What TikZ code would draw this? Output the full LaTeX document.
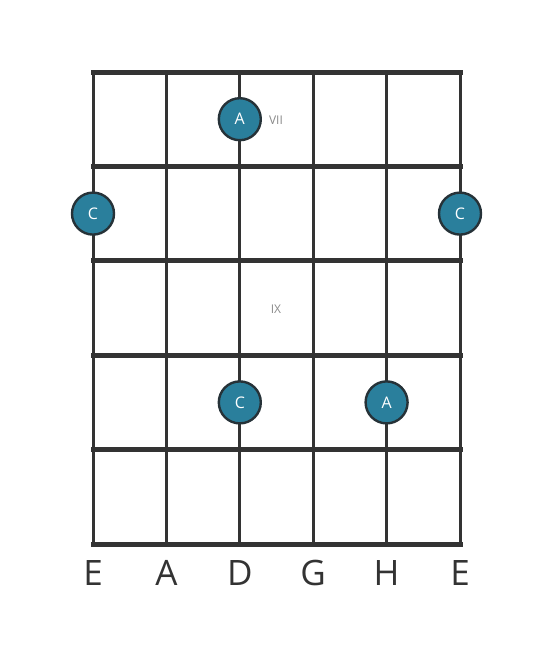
\documentclass[tikz,border=0pt]{standalone}
\usepackage{fontspec}
\setmainfont{Open Sans}
\usepackage{tikz}
\definecolor{gridgray}{HTML}{333333}
\definecolor{notefill}{HTML}{2A7F9C}
\definecolor{noteedge}{HTML}{263238}
\definecolor{fretlabel}{HTML}{8A8A8A}
\begin{document}
\begin{tikzpicture}[x=1pt,y=-1pt,line join=round]
\tikzstyle{note} = [circle,draw=noteedge,line width=2.4pt,fill=notefill,minimum size=42pt,inner sep=0pt,text=white,font=\fontsize{16}{16}\selectfont]
\tikzstyle{fretnum} = [text=fretlabel,font=\fontsize{12}{12}\selectfont,inner sep=1pt]
\tikzstyle{strname} = [text=gridgray,font=\fontsize{35}{35}\selectfont,inner sep=0pt]
\useasboundingbox (0,0) rectangle (553,656);
% strings
\foreach \i in {0,...,5}
  \draw[gridgray,line width=3pt] (93+73.4*\i,72) -- (93+73.4*\i,544);
% frets
\foreach \j in {0,...,5}
  \draw[gridgray,line width=5pt,line cap=rect] (93,72+94.4*\j) -- (460,72+94.4*\j);
% notes
\node[note] (a7) at (239.8,119.2) {A};
\node[note] (c8l) at (93,213.6) {C};
\node[note] (c8r) at (460,213.6) {C};
\node[note] (c10) at (239.8,402.4) {C};
\node[note] (a10) at (386.6,402.4) {A};
\node[fretnum] (vii) at (276,120) {VII};
\node[fretnum] (ix) at (276,309) {IX};
% string names
\node[strname] (s1) at (93,573) {E};
\node[strname] (s2) at (166.4,573) {A};
\node[strname] (s3) at (239.8,573) {D};
\node[strname] (s4) at (313.2,573) {G};
\node[strname] (s5) at (386.6,573) {H};
\node[strname] (s6) at (460,573) {E};
\end{tikzpicture}
\end{document}
